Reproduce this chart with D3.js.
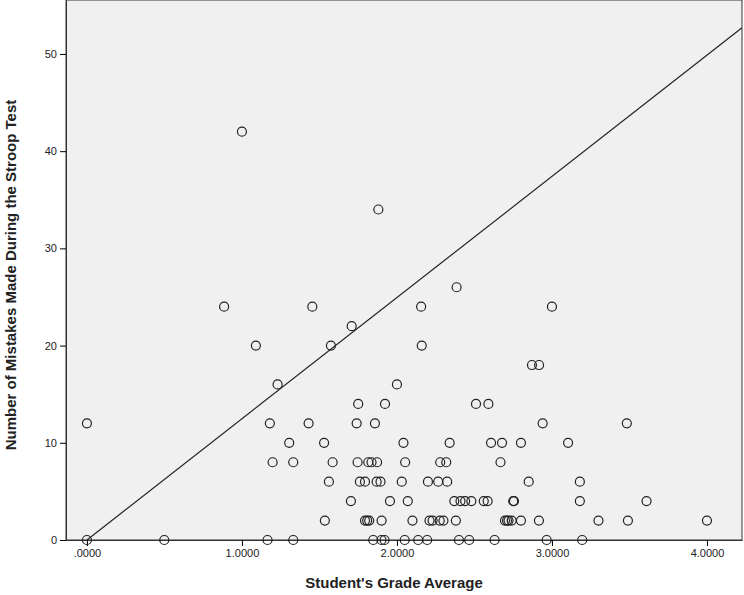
<!DOCTYPE html>
<html><head><meta charset="utf-8">
<script src="https://cdn.jsdelivr.net/npm/d3@7"></script>
<style>body{margin:0;background:#fff}text{font-family:Arial,"Liberation Sans",sans-serif}</style>
</head><body><svg id="c" width="744" height="595"></svg>
<script>
// grade average / mistakes
var gpa = [0.885,1.454,1.708,1.09,1.574,1.23,2.0,1.75,1.923,0,1.18,1.43,1.74,1.858,1.305,1.53,
  1.198,1.331,1.585,1.746,1.815,1.836,1.872,1.561,1.761,1.794,1.869,1.894,1.703,1.955,1.535,
  1.794,1.808,1.821,1.901,0,0.499,1.165,1.331,1.847,1.9,1.92,
  2.385,2.156,3.0,2.16,2.871,2.917,2.51,2.59,2.94,3.483,
  2.042,2.34,2.607,2.678,2.8,3.104,2.053,2.279,2.318,2.668,
  2.031,2.2,2.266,2.324,2.85,3.18,2.07,2.37,2.41,2.44,2.48,2.56,2.585,2.75,2.755,3.18,3.61,
  2.1,2.21,2.23,2.276,2.3,2.38,2.697,2.71,2.72,2.74,2.8,2.916,3.3,3.49,4.0,
  2.05,2.137,2.195,2.4,2.466,2.63,2.966,3.195,1.0,1.88];
var mistakes = [24,24,22,20,20,16,16,14,14,12,12,12,12,12,10,10,
  8,8,8,8,8,8,8,6,6,6,6,6,4,4,2,
  2,2,2,2,0,0,0,0,0,0,0,
  26,24,24,20,18,18,14,14,12,12,
  10,10,10,10,10,10,8,8,8,8,
  6,6,6,6,6,6,4,4,4,4,4,4,4,4,4,4,4,
  2,2,2,2,2,2,2,2,2,2,2,2,2,2,2,
  0,0,0,0,0,0,0,0,42,34];
var lineX = [0, 4.226], lineY = [0, 52.7];
var xTicks = [0,1,2,3,4], yTicks = [0,10,20,30,40,50];

var svg = d3.select("#c"),
    L = 66, R = 742, T = 0, B = 540;
var x = d3.scaleLinear().domain([-0.135, 4.226]).range([L, R]);
var y = d3.scaleLinear().domain([0, 55.55]).range([B, T]);

svg.append("rect").attr("x", L).attr("y", T).attr("width", R - L).attr("height", B - T)
  .attr("fill", "#f0f0f0").attr("stroke", "#333");

svg.append("g").attr("transform", "translate(0," + B + ")")
  .call(d3.axisBottom(x).tickValues(xTicks).tickSize(6).tickSizeOuter(0)
    .tickFormat(function(d) { return d3.format(".4f")(d).replace(/^0/, ""); }))
  .call(function(g) { g.select(".domain").attr("stroke", "#333"); g.selectAll("text").attr("font-size", 11).attr("fill", "#222"); });
svg.append("g").attr("transform", "translate(" + L + ",0)")
  .call(d3.axisLeft(y).tickValues(yTicks).tickSize(6).tickSizeOuter(0))
  .call(function(g) { g.select(".domain").attr("stroke", "#333"); g.selectAll("text").attr("font-size", 11).attr("fill", "#222"); });

var line = d3.line().x(function(d) { return x(d[0]); }).y(function(d) { return y(d[1]); });
svg.append("path").datum(d3.zip(lineX, lineY)).attr("d", line)
  .attr("fill", "none").attr("stroke", "#222").attr("stroke-width", 1.2);

svg.append("g").selectAll("circle").data(d3.zip(gpa, mistakes)).enter().append("circle")
  .attr("cx", function(d) { return x(d[0]); }).attr("cy", function(d) { return y(d[1]); })
  .attr("r", 4.5).attr("fill", "none").attr("stroke", "#222").attr("stroke-width", 1.2);

svg.append("text").attr("x", (L + R) / 2 - 10).attr("y", 588).attr("text-anchor", "middle")
  .attr("font-weight", "bold").attr("font-size", 15).attr("fill", "#222").text("Student's Grade Average");
svg.append("text").attr("transform", "translate(16," + (B / 2 + 5) + ") rotate(-90)")
  .attr("text-anchor", "middle").attr("font-weight", "bold").attr("font-size", 15).attr("fill", "#222")
  .text("Number of Mistakes Made During the Stroop Test");
</script></body></html>
